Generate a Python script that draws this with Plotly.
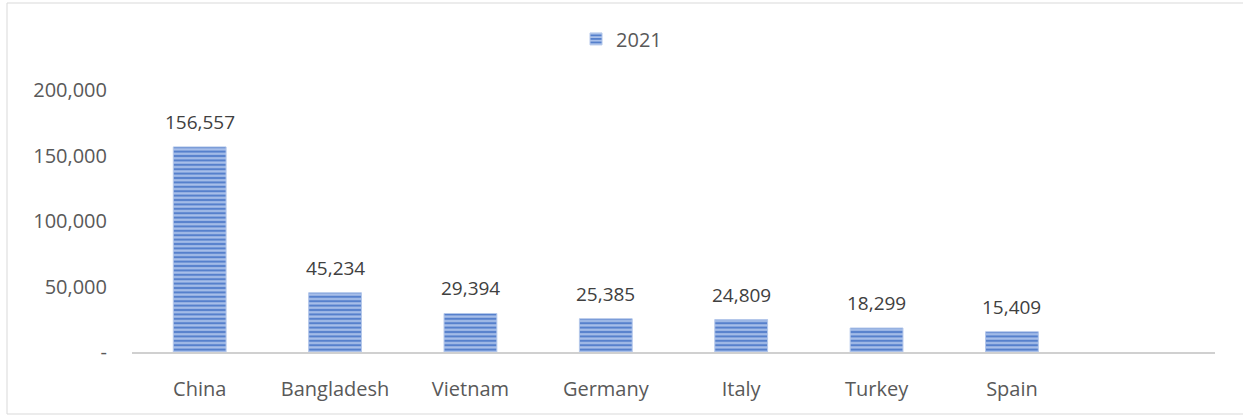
import plotly.graph_objects as go

categories = ["China", "Bangladesh", "Vietnam", "Germany", "Italy", "Turkey", "Spain"]
values_2021 = [156557, 45234, 29394, 25385, 24809, 18299, 15409]
series_name = "2021"
y_tick_vals = [0, 50000, 100000, 150000, 200000]
y_tick_text = ["-", "50,000", "100,000", "150,000", "200,000"]

font_family = "Open Sans, Liberation Sans, sans-serif"

fig = go.Figure()
fig.add_trace(go.Bar(
    x=categories,
    y=values_2021,
    name=series_name,
    width=0.39,
    marker=dict(
        color="#4472C4",
        line=dict(color="#B4C7EA", width=1),
        pattern=dict(shape="-", fgcolor="#A9C0EA", bgcolor="#5680CC",
                     size=4.4, solidity=0.5, fillmode="replace"),
    ),
    cliponaxis=False,
    showlegend=True,
))

for cat, val in zip(categories, values_2021):
    fig.add_annotation(x=cat, y=val, text=f"{val:,}", showarrow=False,
                       yanchor="bottom", yshift=10,
                       font=dict(family=font_family, size=19, color="#404040"))

fig.update_layout(
    width=1243, height=416,
    margin=dict(l=132, r=28, t=90, b=64, autoexpand=False),
    paper_bgcolor="white", plot_bgcolor="white",
    font=dict(family=font_family, size=20, color="#595959"),
    bargap=0.6,
    showlegend=True,
    legend=dict(orientation="h", x=0.452, xanchor="center", y=1.195, yanchor="middle",
                font=dict(size=20, color="#595959"), itemwidth=30,
                bgcolor="rgba(0,0,0,0)"),
    xaxis=dict(
        type="category",
        range=[-0.5, 7.5],
        showline=True, linecolor="#D0D0D0", linewidth=2,
        showgrid=False, ticks="", ticklabelstandoff=18,
        tickfont=dict(size=20, color="#595959"),
        fixedrange=True,
    ),
    yaxis=dict(
        range=[0, 200000],
        tickvals=y_tick_vals, ticktext=y_tick_text,
        showgrid=False, zeroline=False, showline=False,
        ticks="", ticklabelstandoff=24,
        tickfont=dict(size=20, color="#595959"),
        fixedrange=True,
    ),
    shapes=[dict(type="rect", xref="paper", yref="paper",
                 x0=(7 - 132) / 1083, x1=(1250 - 132) / 1083,
                 y0=(352 - 414) / 262, y1=(352 - 3) / 262,
                 line=dict(color="#D9D9D9", width=1), fillcolor="rgba(0,0,0,0)",
                 layer="below")],
)

fig.write_html("out.html", config={"displayModeBar": False},
               post_script="document.body.style.margin='0';")
